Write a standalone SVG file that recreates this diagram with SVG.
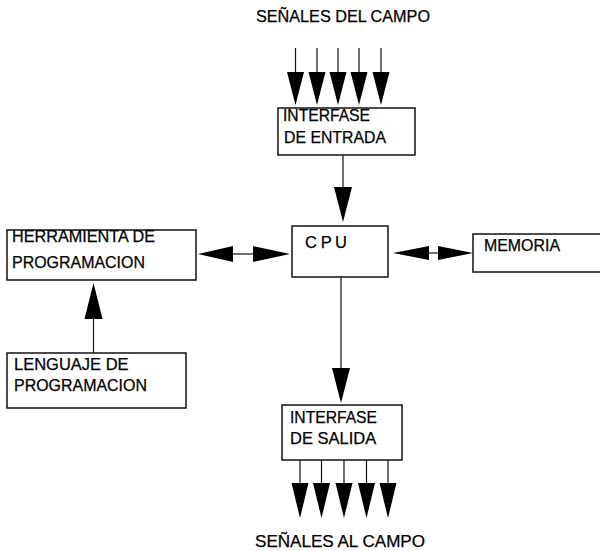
<svg xmlns="http://www.w3.org/2000/svg" width="600" height="551" viewBox="0 0 600 551">
<style>
.box{fill:none;stroke:#111;stroke-width:1.5}
.ln{stroke:#111;stroke-width:1.2;fill:none}
.hd{fill:#000}
text{font-family:"Liberation Sans",Arial,sans-serif;font-size:16.5px;fill:#000;stroke:#000;stroke-width:0.25}
.big{font-size:16.5px}
</style>
<rect width="600" height="551" fill="#fff"/>
<g id="title-top"><text class="big" x="256" y="22" textLength="174" lengthAdjust="spacingAndGlyphs">SEÑALES  DEL  CAMPO</text></g>
<g id="interfase-entrada">
<rect class="box" x="278" y="108" width="137" height="47"/>
<text x="283" y="121" textLength="87" lengthAdjust="spacingAndGlyphs">INTERFASE</text>
<text x="284" y="143" textLength="102" lengthAdjust="spacingAndGlyphs">DE ENTRADA</text>
</g>
<g id="cpu">
<rect class="box" x="292" y="226" width="96" height="51"/>
<text x="305" y="248" textLength="42" lengthAdjust="spacing">C P U</text>
</g>
<g id="memoria">
<path class="box" d="M602 234 H473 V272 H602"/>
<text x="484" y="251" textLength="76" lengthAdjust="spacingAndGlyphs">MEMORIA</text>
</g>
<g id="herramienta">
<rect class="box" x="7" y="230" width="189" height="50"/>
<text x="12" y="242" textLength="143" lengthAdjust="spacingAndGlyphs">HERRAMIENTA DE</text>
<text x="12" y="268" textLength="133" lengthAdjust="spacingAndGlyphs">PROGRAMACION</text>
</g>
<g id="lenguaje">
<rect class="box" x="7" y="353" width="179" height="55"/>
<text x="14" y="370">LENGUAJE DE</text>
<text x="14" y="391" textLength="133" lengthAdjust="spacingAndGlyphs">PROGRAMACION</text>
</g>
<g id="interfase-salida">
<rect class="box" x="282" y="405" width="120" height="55"/>
<text x="290" y="423" textLength="87" lengthAdjust="spacingAndGlyphs">INTERFASE</text>
<text x="290" y="444">DE SALIDA</text>
</g>
<g id="title-bottom"><text class="big" x="255" y="547" textLength="170" lengthAdjust="spacingAndGlyphs">SEÑALES  AL  CAMPO</text></g>
<g id="connectors">
<path class="ln" d="M295.5 48V72M317 48V72M338 48V72M359 48V72M381 48V72"/>
<path class="hd" d="M287 72H304L295.5 105ZM308.5 72H325.5L317 105ZM329.5 72H346.5L338 105ZM350.5 72H367.5L359 105ZM372.5 72H389.5L381 105Z"/>
<path class="ln" d="M343 155V188"/>
<path class="hd" d="M334 187H352L343 222Z"/>
<path class="ln" d="M232 254H254"/>
<path class="hd" d="M198 254L233 246V262Z"/>
<path class="hd" d="M290 254L253 246V262Z"/>
<path class="ln" d="M428 253H439"/>
<path class="hd" d="M393 253L429 246V260Z"/>
<path class="hd" d="M473 253L438 246V260Z"/>
<path class="ln" d="M93.5 318V353"/>
<path class="hd" d="M84.5 319H102.5L93.5 283Z"/>
<path class="ln" d="M341 277V369"/>
<path class="hd" d="M332 368H350L341 403Z"/>
<path class="ln" d="M300 460V484M321.5 460V484M344 460V484M366.5 460V484M388 460V484"/>
<path class="hd" d="M291.5 483H308.5L300 518ZM313 483H330L321.5 518ZM335.5 483H352.5L344 518ZM358 483H375L366.5 518ZM379.5 483H396.5L388 518Z"/>
</g>
</svg>
